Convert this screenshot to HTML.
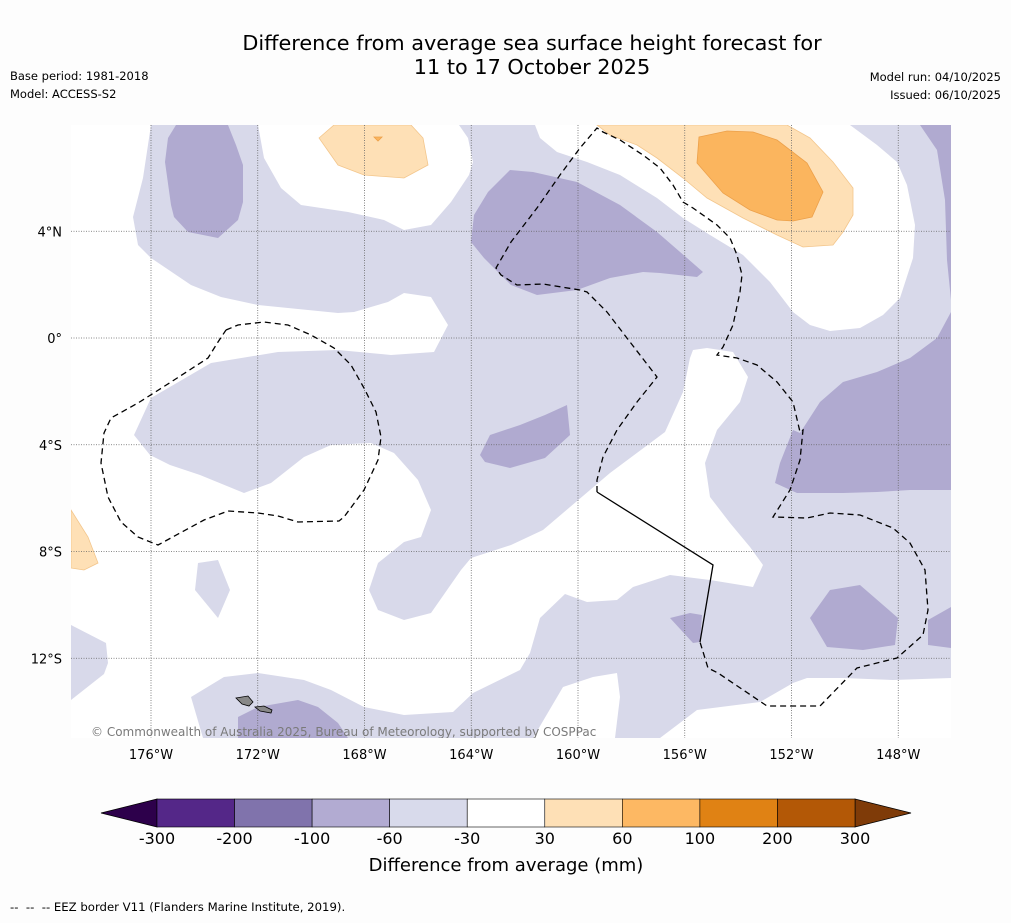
<!DOCTYPE html>
<html><head><meta charset="utf-8">
<style>
html,body{margin:0;padding:0;background:#fdfdfd;}
body{width:1011px;height:919px;overflow:hidden;font-family:"DejaVu Sans","Liberation Sans",sans-serif;}
svg text{font-family:"DejaVu Sans","Liberation Sans",sans-serif;}
</style></head>
<body>
<svg id="fig" width="1011" height="919" viewBox="0 0 1011 919" xmlns="http://www.w3.org/2000/svg">
<rect x="0" y="0" width="1011" height="919" fill="#fdfdfd"/>
<text x="532" y="50" font-size="20.8" text-anchor="middle" fill="#000">Difference from average sea surface height forecast for</text>
<text x="532" y="74" font-size="20.8" text-anchor="middle" fill="#000">11 to 17 October 2025</text>
<text x="10" y="80" font-size="11.5">Base period: 1981-2018</text>
<text x="10" y="98" font-size="11.5">Model: ACCESS-S2</text>
<text x="1001" y="81" font-size="11.5" text-anchor="end">Model run: 04/10/2025</text>
<text x="1001" y="99" font-size="11.5" text-anchor="end">Issued: 06/10/2025</text>

<defs><clipPath id="mapclip"><rect x="71" y="125" width="880" height="613"/></clipPath></defs>
<g id="map" clip-path="url(#mapclip)">
<rect x="71" y="125" width="880" height="613" fill="#d8d9ea"/>
<g fill="#ffffff">
<polygon points="71,125 151,125 143,178 133,217 138,245 151,258 191,285 221,297 258,305 338,313 354,312 388,302 404,293 431,297 448,325 434,352 391,355 338,350 278,352 211,363 151,398 134,435 150,455 170,465 200,475 244,493 271,483 304,457 331,445 371,443 394,453 418,480 431,510 421,537 404,542 378,563 369,590 378,610 404,620 431,613 461,570 471,558 511,545 543,530 610,473 665,432 683,392 690,358 693,350 707,348 733,352 748,377 740,402 717,430 705,463 710,497 730,523 750,547 763,565 753,587 710,580 670,575 633,587 617,600 587,602 565,594 540,618 530,653 520,670 473,693 453,712 404,715 364,707 331,690 304,680 258,673 224,677 191,697 203,738 71,738"/>
<polygon points="258,125 264,158 281,188 301,205 348,212 384,220 404,230 431,225 451,202 469,175 473,162 468,138 459,125"/>
<polygon points="535,125 540,138 557,152 587,162 620,175 657,198 683,218 710,235 743,255 770,282 793,312 810,325 830,331 860,328 883,315 900,298 913,258 915,225 907,185 897,162 877,145 850,125"/>
<polygon points="533,738 563,687 593,677 617,673 620,697 615,738"/>
<polygon points="660,738 697,710 760,702 793,683 807,678 843,678 893,680 951,678 951,738"/>
</g>
<g fill="#d8d9ea">
<polygon points="71,625 106,643 108,663 104,674 71,700"/>
<polygon points="198,563 218,560 230,590 218,618 195,590"/>
</g>
<g fill="#b0aad0">
<polygon points="176,125 168,138 165,162 171,205 174,217 188,232 218,238 238,220 243,202 243,165 236,145 228,125"/>
<polygon points="510,170 533,172 577,182 620,205 657,232 687,258 703,272 697,277 660,273 643,272 610,278 577,290 537,295 511,285 484,258 471,242 474,215 488,192"/>
<polygon points="480,455 490,435 520,425 545,415 567,405 570,435 545,458 510,468 485,462"/>
<polygon points="920,125 951,125 951,300 947,260 945,200 937,150"/>
<polygon points="951,312 937,338 910,358 877,372 843,382 820,402 800,433 793,430 780,463 775,483 797,493 843,493 877,492 910,490 951,490"/>
<polygon points="670,618 690,613 702,615 700,642 693,643"/>
<polygon points="810,618 830,590 860,585 898,618 895,645 863,650 827,647"/>
<polygon points="928,620 951,607 951,648 928,645"/>
<polygon points="238,717 258,707 298,700 318,707 338,723 348,738 238,738"/>
</g>
<g fill="#fee0b6" stroke="#f3c68c" stroke-width="0.8">
<polygon points="319,138 334,125 411,125 423,138 428,165 404,178 364,175 338,165"/>
<polygon points="597,125 610,135 637,145 657,158 683,178 707,198 743,218 777,235 803,247 833,245 843,232 853,215 853,188 833,162 810,138 787,125"/>
<polygon points="71,510 88,537 98,563 84,570 71,568"/>
</g>
<g fill="#fbb55e" stroke="#eca04a" stroke-width="0.8">
<polygon points="699,137 727,131 753,132 777,140 807,163 823,192 812,217 793,221 777,220 750,210 723,193 697,163"/>
<polygon points="374,137 382,137 378,141"/>
</g>
<g fill="#888" stroke="#000" stroke-width="0.8">
<polygon points="236,698 248,696 253,702 249,706 242,704"/>
<polygon points="255,707 264,706 272,710 271,713 260,711"/>
</g>
<g id="grid"></g>
<g fill="none" stroke="#000" stroke-width="1.3" stroke-dasharray="6,4">
<polyline points="226,330 238,325 264,322 288,325 311,335 334,348 351,365 364,388 376,412 381,437 378,460 364,490 344,517 339,521 298,522 278,516 258,513 228,511 204,520 158,545 138,537 121,522 108,497 101,463 104,433 111,418 138,403 171,382 208,358 218,342 226,330"/>
<polyline points="597,492 597,480 603,457 617,430 637,402 657,377 630,342 607,312 587,292 580,290 543,284 517,285 501,275 496,268 511,242 537,208 560,175 580,148 597,128 603,132 620,140 643,155 660,168 673,185 683,202 693,208 717,225 730,238 737,255 742,275 740,292 733,325 723,347 717,355 737,358 757,365 777,382 793,402 800,432 803,430 800,460 790,490 773,517 807,518 830,513 860,515 893,528 910,543 925,570 928,610 923,635 897,658 857,668 820,706 767,706 718,673 708,668 700,642"/>
</g>
<polyline points="597,492 713,565 700,642" fill="none" stroke="#000" stroke-width="1.3"/>
<text x="91" y="736" font-size="12" fill="#7a7a7a">© Commonwealth of Australia 2025, Bureau of Meteorology, supported by COSPPac</text>
</g>
<g id="axes"></g>
<g id="colorbar"></g>
<text x="506" y="871" font-size="18" text-anchor="middle">Difference from average (mm)</text>
<text x="10" y="911" font-size="11.7" xml:space="preserve" style="white-space:pre">--  --  -- EEZ border V11 (Flanders Marine Institute, 2019).</text>
</svg>
<script>
const lonTicks = [-176, -172, -168, -164, -160, -156, -152, -148];
const lonLabels = ["176°W", "172°W", "168°W", "164°W", "160°W", "156°W", "152°W", "148°W"];
const latTicks = [4, 0, -4, -8, -12];
const latLabels = ["4°N", "0°", "4°S", "8°S", "12°S"];
const levels = [-300, -200, -100, -60, -30, 30, 60, 100, 200, 300];
const levelLabels = ["-300", "-200", "-100", "-60", "-30", "30", "60", "100", "200", "300"];
const binColors = ["#542788", "#8073ac", "#b2abd2", "#d8daeb", "#ffffff", "#fee0b6", "#fdb863", "#e08214", "#b35806"];
const extendColors = ["#2d004b", "#7f3b08"];

const NS = "http://www.w3.org/2000/svg";
const X0 = 71, X1 = 951, Y0 = 125, Y1 = 738;
function xLon(lon){ return 151 + (lon + 176) * (106.75 / 4); }
function yLat(lat){ return 338 - lat * (106.75 / 4); }
function mk(tag, attrs, parent){ const e = document.createElementNS(NS, tag); for (const k in attrs) e.setAttribute(k, attrs[k]); parent.appendChild(e); return e; }

const grid = document.getElementById('grid');
const axes = document.getElementById('axes');
lonTicks.forEach((lon, i) => {
  const x = xLon(lon);
  const l = mk('line', {x1: x, x2: x, y1: Y0, y2: Y1, stroke: '#666', 'stroke-width': 0.8, 'stroke-dasharray': '1,1.5'}, grid);
  
  
  const t = mk('text', {x: x, y: 759, 'font-size': 13, 'text-anchor': 'middle'}, axes);
  t.textContent = lonLabels[i];
  
  
});
latTicks.forEach((lat, i) => {
  const y = yLat(lat);
  const l = mk('line', {x1: X0, x2: X1, y1: y, y2: y, stroke: '#666', 'stroke-width': 0.8, 'stroke-dasharray': '1,1.5'}, grid);
  
  
  const t = mk('text', {x: 62, y: y + 5, 'font-size': 13, 'text-anchor': 'end'}, axes);
  t.textContent = latLabels[i];
  
  
});

const cb = document.getElementById('colorbar');
const CB0 = 157, CB1 = 855, CBY = 799, CBH = 28;
function xLevel(i){ return CB0 + i * (CB1 - CB0) / (levels.length - 1); }
const lt = mk('polygon', {points: `${CB0},${CBY} ${CB0},${CBY+CBH} 101,${CBY+CBH/2}`, fill: extendColors[0], stroke: '#000', 'stroke-width': 0.8}, cb);


const rt = mk('polygon', {points: `${CB1},${CBY} ${CB1},${CBY+CBH} 911,${CBY+CBH/2}`, fill: extendColors[1], stroke: '#000', 'stroke-width': 0.8}, cb);


binColors.forEach((c, i) => {
  const r = mk('rect', {x: xLevel(i), y: CBY, width: xLevel(i + 1) - xLevel(i), height: CBH, fill: c, stroke: '#000', 'stroke-width': 0.6}, cb);
  
  
});
levels.forEach((v, i) => {
  const t = mk('text', {x: xLevel(i), y: 844, 'font-size': 16, 'text-anchor': 'middle'}, cb);
  t.textContent = levelLabels[i];
  
  
});
</script>
</body></html>
